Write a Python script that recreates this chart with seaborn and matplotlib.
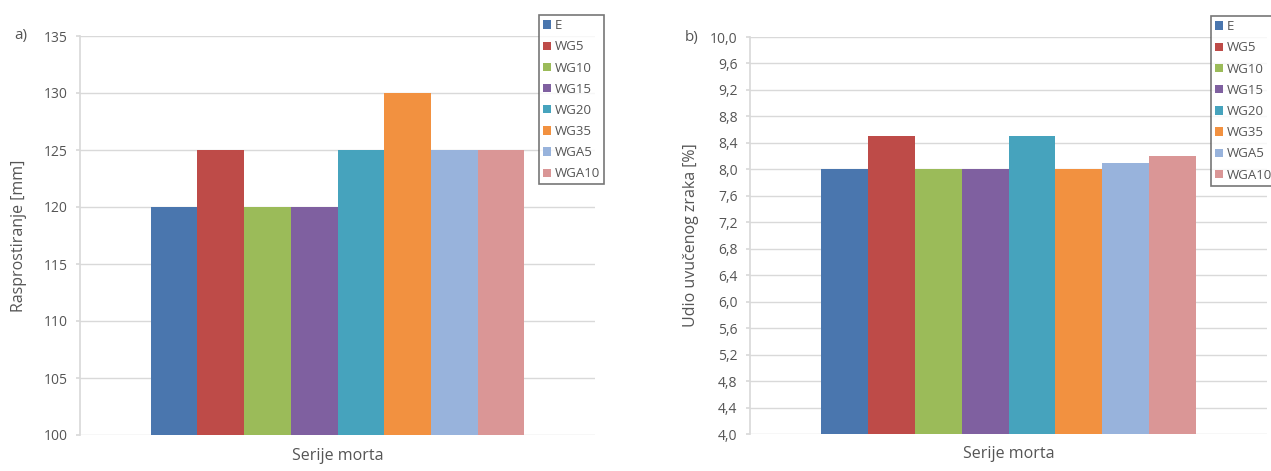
import matplotlib
matplotlib.use("Agg")
import matplotlib.pyplot as plt
import matplotlib.ticker as ticker
import seaborn as sns
import numpy as np
import pandas as pd

# --------------------------
# Data
series = ["E", "WG5", "WG10", "WG15", "WG20", "WG35", "WGA5", "WGA10"]
spread_mm = [120, 125, 120, 120, 125, 130, 125, 125]
air_pct = [8.0, 8.5, 8.0, 8.0, 8.5, 8.0, 8.1, 8.2]
group_label = "Serije morta"

colors = ["#4A76AE", "#BE4B48", "#9BBB59", "#7F60A0", "#46A3BD",
          "#F29140", "#98B3DC", "#DA9696"]

sns.set_theme(style="white")
plt.rcParams["font.family"] = ["Open Sans", "DejaVu Sans"]

text_col = "#555555"
grid_col = "#d9d9d9"

fig = plt.figure(figsize=(12.71, 4.71), dpi=100)
ax_a = fig.add_axes([80 / 1271, 36 / 471, 515 / 1271, 399 / 471])
ax_b = fig.add_axes([750 / 1271, 37 / 471, 517 / 1271, 397 / 471])


def draw(ax, values, ylim, yticks, fmt, ylabel, tag, ylpad):
    df = pd.DataFrame({"serija": series, "vrijednost": values,
                       "grupa": [group_label] * len(series)})
    sns.barplot(data=df, x="grupa", y="vrijednost", hue="serija",
                hue_order=series, palette=colors, width=0.8,
                saturation=1, ax=ax, linewidth=0)
    ax.set_ylim(*ylim)
    ax.set_xlim(-0.551, 0.551)
    ax.yaxis.set_major_locator(ticker.FixedLocator(yticks))
    ax.yaxis.set_major_formatter(ticker.FuncFormatter(fmt))
    ax.set_xticks([])
    ax.grid(True, axis="y", color=grid_col, linewidth=1.0)
    ax.set_axisbelow(True)
    for s in ["top", "right", "bottom"]:
        ax.spines[s].set_visible(False)
    ax.spines["left"].set_color(grid_col)
    ax.tick_params(axis="y", left=True, length=3, color=grid_col,
                   labelsize=10, labelcolor=text_col, pad=6)
    ax.set_xlabel(group_label, fontsize=11.5, color=text_col, labelpad=9)
    ax.set_ylabel(ylabel, fontsize=11.5, color=text_col, labelpad=ylpad)
    ax.text(-0.127, 1.0, tag, transform=ax.transAxes, fontsize=11,
            color=text_col, ha="left", va="center")
    leg = ax.legend(loc="upper left", bbox_to_anchor=(0.891, 1.052),
                    fontsize=9.5, frameon=True, fancybox=False,
                    handlelength=0.6, handleheight=0.6, handletextpad=0.3,
                    labelspacing=0.62, borderpad=0.3, borderaxespad=0)
    leg.get_frame().set_edgecolor("#555555")
    leg.get_frame().set_linewidth(1.2)
    for t in leg.get_texts():
        t.set_color(text_col)


draw(ax_a, spread_mm, (100, 135), np.arange(100, 136, 5),
     lambda v, p: f"{v:.0f}", "Rasprostiranje [mm]", "a)", 12)
draw(ax_b, air_pct, (4.0, 10.0), np.round(np.arange(4.0, 10.01, 0.4), 1),
     lambda v, p: f"{v:.1f}".replace(".", ","), "Udio uvučenog zraka [%]", "b)", 8)

plt.savefig("out.png", dpi=100)
